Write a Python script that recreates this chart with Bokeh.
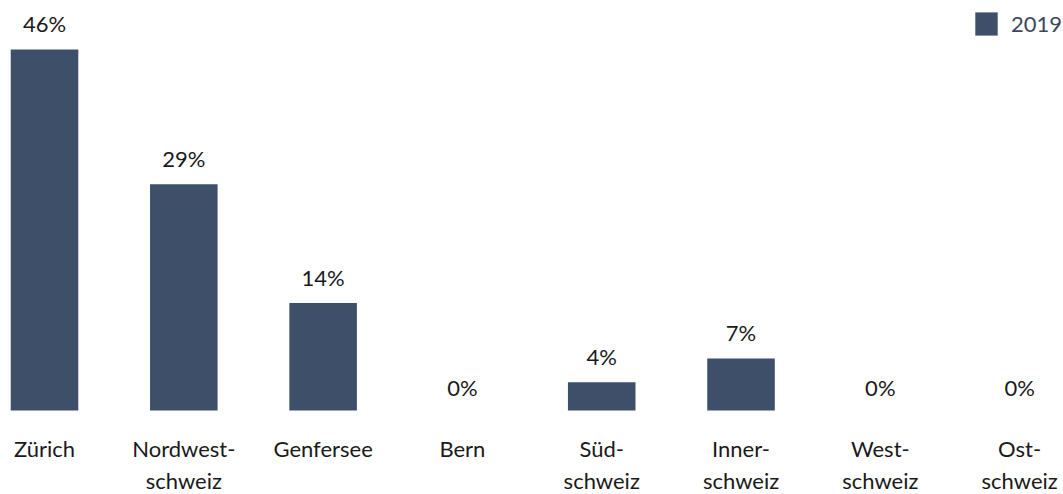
from bokeh.plotting import figure
from bokeh.models import ColumnDataSource, Range1d, Legend, LegendItem
from bokeh.core.properties import value
from bokeh.embed import file_html
from bokeh.resources import INLINE

categories = ["Zürich", "Nordwest-\nschweiz", "Genfersee", "Bern",
              "Süd-\nschweiz", "Inner-\nschweiz", "West-\nschweiz", "Ost-\nschweiz"]
shares_2019 = [46, 29, 14, 0, 4, 7, 0, 0]
share_labels = ["46%", "29%", "14%", "0%", "4%", "7%", "0%", "0%"]

BAR = "#3e5069"
FONT = "Lato"

xs = list(range(len(categories)))
line1 = [c.split("\n")[0] for c in categories]
line2 = [c.split("\n")[1] if "\n" in c else "" for c in categories]
bottoms = [min(v, 0.43) for v in shares_2019]

src = ColumnDataSource(dict(x=xs, top=shares_2019, bottom=bottoms, lab=share_labels,
                            l1=line1, l2=line2))

p = figure(width=1063, height=494, output_backend="svg", toolbar_location=None,
           x_range=Range1d(-0.316, 7.315), y_range=Range1d(-10.18, 52.2),
           min_border=0, outline_line_color=None, background_fill_color="white",
           border_fill_color="white")
p.axis.visible = False
p.grid.visible = False

bars = p.vbar(x="x", top="top", bottom="bottom", width=0.485, source=src,
              fill_color=BAR, line_color=None)

p.text(x="x", y="top", text="lab", source=src, text_align="center",
       text_baseline="alphabetic", y_offset=-26, text_font=value(FONT),
       text_font_size="22px", text_color="#1a1a1a")
p.text(x="x", y=0, text="l1", source=src, text_align="center",
       text_baseline="alphabetic", y_offset=34.6, text_font=value(FONT),
       text_font_size="22px", text_color="#1a1a1a")
p.text(x="x", y=0, text="l2", source=src, text_align="center",
       text_baseline="alphabetic", y_offset=66.6, text_font=value(FONT),
       text_font_size="22px", text_color="#1a1a1a")

legend = Legend(items=[LegendItem(label="2019", renderers=[bars])],
                location=(972, 456), orientation="horizontal",
                glyph_width=28, glyph_height=29, label_height=29,
                label_standoff=11, padding=0, margin=0, spacing=0,
                border_line_color=None, background_fill_alpha=0,
                label_text_font=FONT, label_text_font_size="22px",
                label_text_color="#3d4660")
p.add_layout(legend, "center")

open("out.html", "w").write(file_html(p, INLINE))
